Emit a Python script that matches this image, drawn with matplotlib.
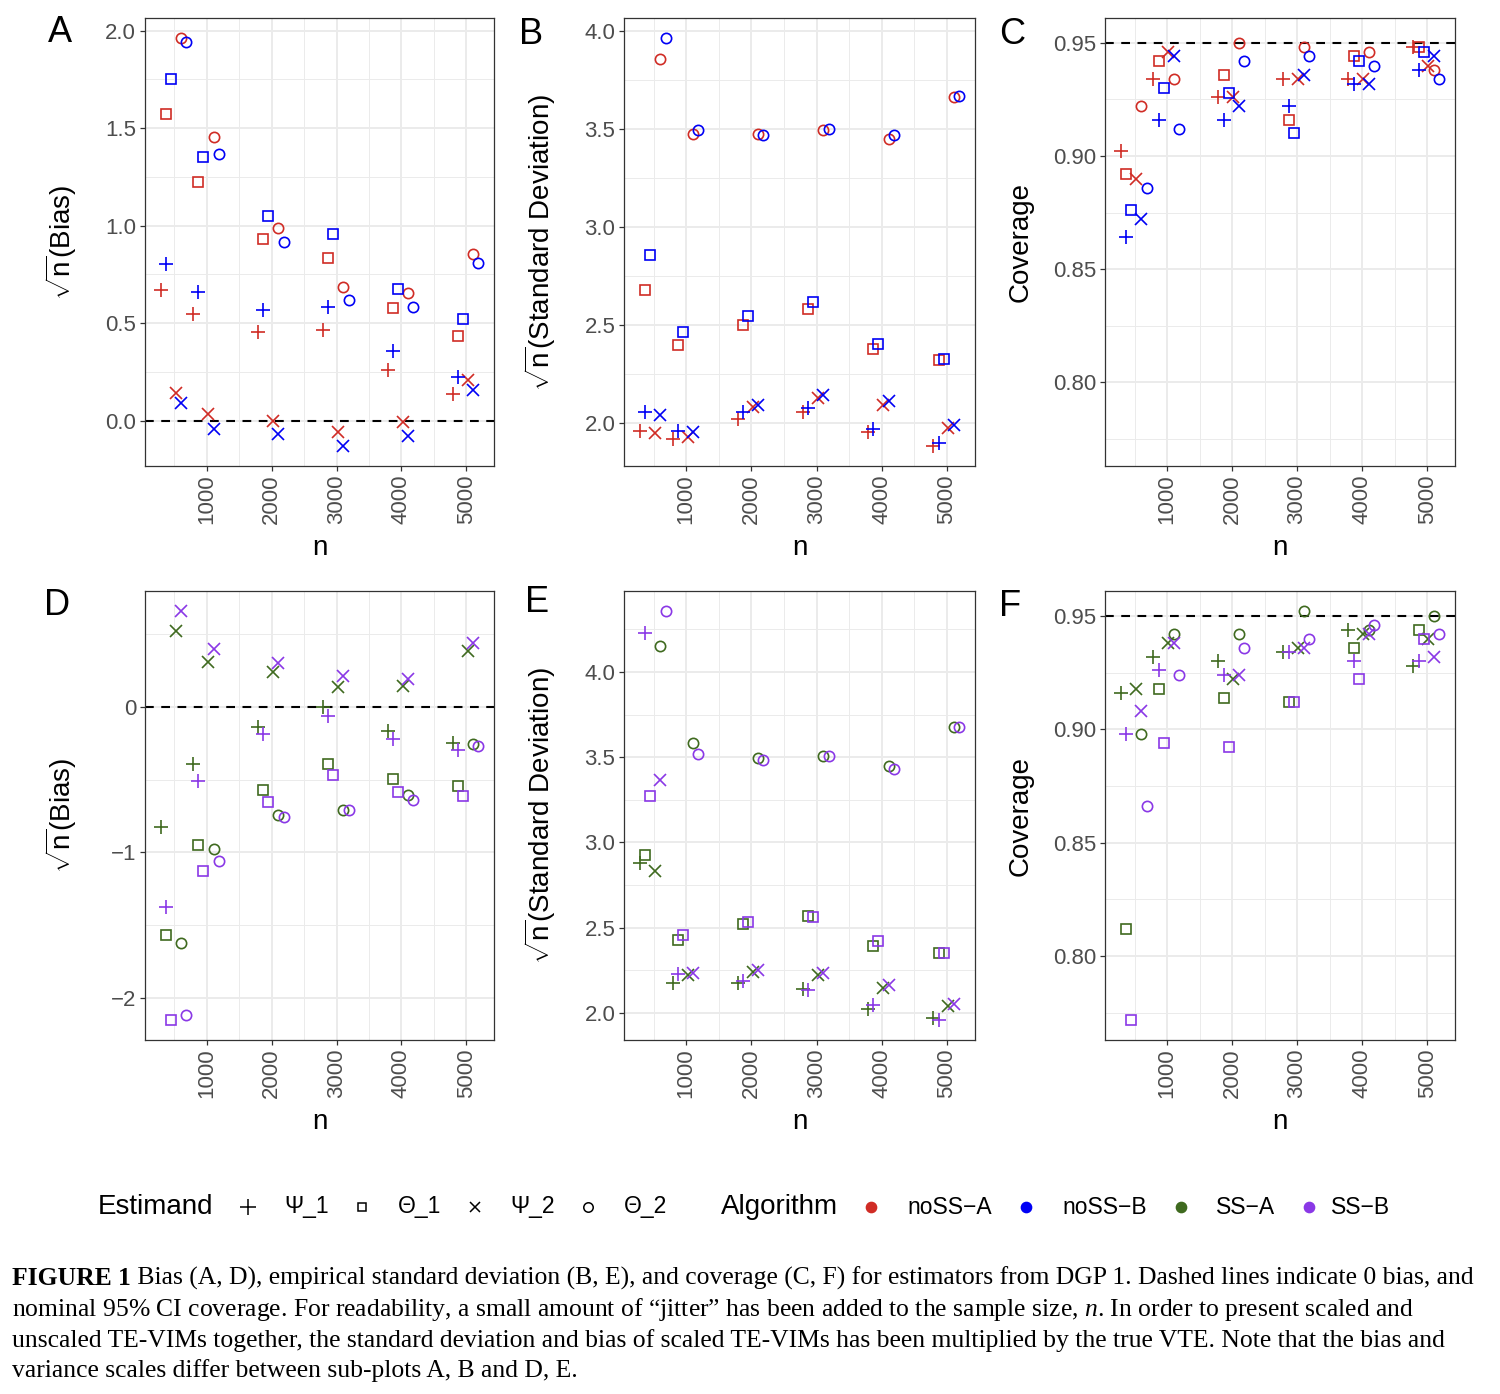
import matplotlib
matplotlib.use("Agg")
import matplotlib.pyplot as plt
import numpy as np

plt.rcParams['font.family'] = ['Liberation Sans', 'DejaVu Sans']
plt.rcParams['mathtext.fontset'] = 'custom'
plt.rcParams['mathtext.rm'] = 'Liberation Sans'
plt.rcParams['mathtext.it'] = 'Liberation Serif:italic'
plt.rcParams['mathtext.bf'] = 'Liberation Sans:bold'

# ---------------- data ----------------
n_values = [500, 1000, 2000, 3000, 4000, 5000]
estimands = ["Ψ_1", "Θ_1", "Ψ_2", "Θ_2"]
algorithms = ["noSS−A", "noSS−B", "SS−A", "SS−B"]
# deterministic jitter added to n (per estimand), for "-A" and "-B" algorithms
jitter_A = [-210, -130, 22, 103]
jitter_B = [-130, -53, 103, 185]

# Panel A: sqrt(n) * bias, noSS algorithms
bias_noSSA_psi1 = [0.670, 0.546, 0.457, 0.466, 0.260, 0.135]
bias_noSSA_theta1 = [1.570, 1.226, 0.931, 0.836, 0.577, 0.432]
bias_noSSA_psi2 = [0.142, 0.033, 0.000, -0.058, -0.009, 0.209]
bias_noSSA_theta2 = [1.960, 1.454, 0.987, 0.683, 0.656, 0.856]
bias_noSSB_psi1 = [0.805, 0.661, 0.568, 0.585, 0.357, 0.224]
bias_noSSB_theta1 = [1.754, 1.352, 1.047, 0.958, 0.676, 0.519]
bias_noSSB_psi2 = [0.093, -0.042, -0.067, -0.128, -0.080, 0.157]
bias_noSSB_theta2 = [1.940, 1.368, 0.916, 0.619, 0.585, 0.807]

# Panel B: sqrt(n) * SD, noSS algorithms
sd_noSSA_psi1 = [1.960, 1.917, 2.018, 2.058, 1.955, 1.884]
sd_noSSA_theta1 = [2.678, 2.400, 2.502, 2.580, 2.377, 2.319]
sd_noSSA_psi2 = [1.949, 1.929, 2.083, 2.129, 2.091, 1.975]
sd_noSSA_theta2 = [3.857, 3.476, 3.473, 3.493, 3.447, 3.663]
sd_noSSB_psi1 = [2.058, 1.957, 2.056, 2.076, 1.967, 1.897]
sd_noSSB_theta1 = [2.855, 2.462, 2.545, 2.618, 2.404, 2.326]
sd_noSSB_psi2 = [2.042, 1.955, 2.091, 2.143, 2.111, 1.987]
sd_noSSB_theta2 = [3.962, 3.495, 3.469, 3.502, 3.467, 3.667]

# Panel C: coverage, noSS algorithms
cov_noSSA_psi1 = [0.902, 0.934, 0.926, 0.934, 0.934, 0.948]
cov_noSSA_theta1 = [0.892, 0.942, 0.936, 0.916, 0.944, 0.948]
cov_noSSA_psi2 = [0.890, 0.946, 0.926, 0.934, 0.934, 0.940]
cov_noSSA_theta2 = [0.922, 0.934, 0.950, 0.948, 0.946, 0.938]
cov_noSSB_psi1 = [0.864, 0.916, 0.916, 0.922, 0.932, 0.938]
cov_noSSB_theta1 = [0.876, 0.930, 0.928, 0.910, 0.942, 0.946]
cov_noSSB_psi2 = [0.872, 0.944, 0.922, 0.936, 0.932, 0.944]
cov_noSSB_theta2 = [0.886, 0.912, 0.942, 0.944, 0.940, 0.934]

# Panel D: sqrt(n) * bias, SS algorithms
bias_SSA_psi1 = [-0.826, -0.390, -0.135, -0.003, -0.164, -0.248]
bias_SSA_theta1 = [-1.569, -0.949, -0.574, -0.392, -0.495, -0.542]
bias_SSA_psi2 = [0.520, 0.309, 0.238, 0.140, 0.145, 0.385]
bias_SSA_theta2 = [-1.620, -0.980, -0.745, -0.711, -0.603, -0.255]
bias_SSB_psi1 = [-1.373, -0.510, -0.189, -0.059, -0.221, -0.299]
bias_SSB_theta1 = [-2.150, -1.127, -0.654, -0.466, -0.588, -0.615]
bias_SSB_psi2 = [0.657, 0.397, 0.304, 0.211, 0.194, 0.439]
bias_SSB_theta2 = [-2.115, -1.061, -0.760, -0.711, -0.640, -0.267]

# Panel E: sqrt(n) * SD, SS algorithms
sd_SSA_psi1 = [2.879, 2.177, 2.177, 2.142, 2.021, 1.969]
sd_SSA_theta1 = [2.923, 2.428, 2.522, 2.568, 2.392, 2.353]
sd_SSA_psi2 = [2.833, 2.219, 2.242, 2.223, 2.144, 2.042]
sd_SSA_theta2 = [4.150, 3.580, 3.497, 3.509, 3.447, 3.674]
sd_SSB_psi1 = [4.228, 2.230, 2.188, 2.136, 2.048, 1.960]
sd_SSB_theta1 = [3.269, 2.459, 2.534, 2.562, 2.422, 2.353]
sd_SSB_psi2 = [3.365, 2.234, 2.251, 2.236, 2.163, 2.052]
sd_SSB_theta2 = [4.355, 3.520, 3.486, 3.505, 3.430, 3.678]

# Panel F: coverage, SS algorithms
cov_SSA_psi1 = [0.916, 0.932, 0.930, 0.934, 0.944, 0.928]
cov_SSA_theta1 = [0.812, 0.918, 0.914, 0.912, 0.936, 0.944]
cov_SSA_psi2 = [0.918, 0.938, 0.922, 0.936, 0.942, 0.940]
cov_SSA_theta2 = [0.898, 0.942, 0.942, 0.952, 0.944, 0.950]
cov_SSB_psi1 = [0.898, 0.926, 0.924, 0.934, 0.930, 0.930]
cov_SSB_theta1 = [0.772, 0.894, 0.892, 0.912, 0.922, 0.940]
cov_SSB_psi2 = [0.908, 0.938, 0.924, 0.936, 0.942, 0.932]
cov_SSB_theta2 = [0.866, 0.924, 0.936, 0.940, 0.946, 0.942]

y_ticks_bias1 = [0.0, 0.5, 1.0, 1.5, 2.0]
y_ticks_sd1 = [2.0, 2.5, 3.0, 3.5, 4.0]
y_ticks_cov = [0.80, 0.85, 0.90, 0.95]
y_ticks_bias2 = [-2, -1, 0]
y_ticks_sd2 = [2.0, 2.5, 3.0, 3.5, 4.0]
x_ticks = [1000, 2000, 3000, 4000, 5000]

caption_bold = "FIGURE 1"
caption_lines = [
    " Bias (A, D), empirical standard deviation (B, E), and coverage (C, F) for estimators from DGP 1. Dashed lines indicate 0 bias, and",
    "nominal 95% CI coverage. For readability, a small amount of \u201cjitter\u201d has been added to the sample size, $n$. In order to present scaled and",
    "unscaled TE-VIMs together, the standard deviation and bias of scaled TE-VIMs has been multiplied by the true VTE. Note that the bias and",
    "variance scales differ between sub-plots A, B and D, E.",
]

# ---------------- styling ----------------
colors = {"noSS−A": "#D02C25", "noSS−B": "#0000F5", "SS−A": "#3F6A1F", "SS−B": "#8A38E6"}
markers = ["+", "s", "x", "o"]
msizes = [10.5, 7.0, 8.0, 7.4]
leg_msizes = [11.0, 6.4, 7.6, 6.8]
MEW = 1.2

W, H = 1500, 1394
fig = plt.figure(figsize=(W / 100, H / 100), dpi=100)
fig.patch.set_facecolor("white")

def px_axes(left, top, right, bottom):
    return fig.add_axes([left / W, 1 - bottom / H, (right - left) / W, (bottom - top) / H])

series = {
    "A": {"noSS−A": [bias_noSSA_psi1, bias_noSSA_theta1, bias_noSSA_psi2, bias_noSSA_theta2],
          "noSS−B": [bias_noSSB_psi1, bias_noSSB_theta1, bias_noSSB_psi2, bias_noSSB_theta2]},
    "B": {"noSS−A": [sd_noSSA_psi1, sd_noSSA_theta1, sd_noSSA_psi2, sd_noSSA_theta2],
          "noSS−B": [sd_noSSB_psi1, sd_noSSB_theta1, sd_noSSB_psi2, sd_noSSB_theta2]},
    "C": {"noSS−A": [cov_noSSA_psi1, cov_noSSA_theta1, cov_noSSA_psi2, cov_noSSA_theta2],
          "noSS−B": [cov_noSSB_psi1, cov_noSSB_theta1, cov_noSSB_psi2, cov_noSSB_theta2]},
    "D": {"SS−A": [bias_SSA_psi1, bias_SSA_theta1, bias_SSA_psi2, bias_SSA_theta2],
          "SS−B": [bias_SSB_psi1, bias_SSB_theta1, bias_SSB_psi2, bias_SSB_theta2]},
    "E": {"SS−A": [sd_SSA_psi1, sd_SSA_theta1, sd_SSA_psi2, sd_SSA_theta2],
          "SS−B": [sd_SSB_psi1, sd_SSB_theta1, sd_SSB_psi2, sd_SSB_theta2]},
    "F": {"SS−A": [cov_SSA_psi1, cov_SSA_theta1, cov_SSA_psi2, cov_SSA_theta2],
          "SS−B": [cov_SSB_psi1, cov_SSB_theta1, cov_SSB_psi2, cov_SSB_theta2]},
}

bias_label = r"$\sqrt{\mathrm{n}}$(Bias)"
sd_label = r"$\sqrt{\mathrm{n}}$(Standard Deviation)"

def fmt(v, d):
    s = f"{v:.{d}f}"
    return s.replace("-", "\u2212")

panel_specs = {
    "A": dict(box=(145, 18, 494, 466), ylabel=bias_label, yt=y_ticks_bias1, dec=1, hline=0.0, letter=(60, 33)),
    "B": dict(box=(624, 18, 975, 466), ylabel=sd_label, yt=y_ticks_sd1, dec=1, hline=None, letter=(531, 35)),
    "C": dict(box=(1105, 18, 1455, 466), ylabel="Coverage", yt=y_ticks_cov, dec=2, hline=0.95, letter=(1012, 35)),
    "D": dict(box=(145, 591, 494, 1040), ylabel=bias_label, yt=y_ticks_bias2, dec=0, hline=0.0, letter=(57, 605)),
    "E": dict(box=(624, 591, 975, 1040), ylabel=sd_label, yt=y_ticks_sd2, dec=1, hline=None, letter=(537, 602)),
    "F": dict(box=(1105, 591, 1455, 1040), ylabel="Coverage", yt=y_ticks_cov, dec=2, hline=0.95, letter=(1010, 607)),
}

def expand(vals):
    lo, hi = min(vals), max(vals)
    r = hi - lo
    return lo - 0.05 * r, hi + 0.05 * r

all_x = [n + j for n in n_values for j in jitter_A + jitter_B]
xlim = expand(all_x)

def panel_vals(key):
    return [v for alg in series[key].values() for lst in alg for v in lst]

ylims = {k: expand(panel_vals(k)) for k in "ABDE"}
ylims["C"] = ylims["F"] = expand(panel_vals("C") + panel_vals("F"))

TICK_C = "#4D4D4D"
for key, spec in panel_specs.items():
    l, t, r, b = spec["box"]
    ax = px_axes(l, t, r, b)
    ax.set_facecolor("white")
    for alg, est_lists in series[key].items():
        jit = jitter_A if alg.endswith("A") else jitter_B
        for ei, vals in enumerate(est_lists):
            xs = [n + jit[ei] for n in n_values]
            ax.plot(xs, vals, linestyle="none", marker=markers[ei], ms=msizes[ei],
                    mfc="none", mec=colors[alg], mew=MEW, zorder=3)
    if spec["hline"] is not None:
        ax.axhline(spec["hline"], color="black", lw=1.5, dashes=(4.2, 3.6), zorder=2)
    ax.set_xlim(*xlim)
    ax.set_ylim(*ylims[key])
    # ticks & grid
    ax.set_xticks(x_ticks)
    ax.set_xticklabels([str(v) for v in x_ticks], rotation=90, fontsize=16, color=TICK_C)
    xt_minor = [v + 500 for v in [0] + x_ticks[:-1]] + [500]
    ax.set_xticks(sorted(set(xt_minor)), minor=True)
    yt = spec["yt"]
    ax.set_yticks(yt)
    ax.set_yticklabels([fmt(v, spec["dec"]) for v in yt], fontsize=16, color=TICK_C)
    step = yt[1] - yt[0]
    ymin_l = [yt[0] - step / 2] + [v + step / 2 for v in yt]
    ax.set_yticks([v for v in ymin_l if ylims[key][0] <= v <= ylims[key][1]], minor=True)
    ax.grid(True, which="major", color="#EBEBEB", lw=1.4, zorder=0)
    ax.grid(True, which="minor", color="#EBEBEB", lw=0.7, zorder=0)
    ax.set_axisbelow(True)
    ax.tick_params(which="major", length=3.8, width=0.9, color="#333333", pad=2.5)
    ax.tick_params(which="minor", length=0)
    for sp in ax.spines.values():
        sp.set_color("#333333")
        sp.set_linewidth(0.9)
    ax.set_xlabel("n", fontsize=20, va="center")
    ax.xaxis.set_label_coords(0.5, -82 / (b - t))
    ax.set_ylabel(spec["ylabel"], fontsize=20, va="center")
    ax.yaxis.set_label_coords(-84 / (r - l), 0.5)
    lx, ly = spec["letter"]
    fig.text(lx / W, 1 - ly / H, key, fontsize=26, ha="center", va="center")

# ---------------- legend & caption (pixel overlay) ----------------
ov = fig.add_axes([0, 0, 1, 1], zorder=-1)
ov.set_xlim(0, W)
ov.set_ylim(H, 0)
ov.axis("off")

LY = 1207
ov.text(98, LY, "Estimand", fontsize=20, ha="left", va="center")
est_key_x = [248, 362, 475, 588]
est_lab_x = [284, 398, 510, 624]
for i in range(4):
    ov.plot([est_key_x[i]], [LY], linestyle="none", marker=markers[i], ms=leg_msizes[i],
            mfc="none", mec="black", mew=1.1)
    ov.text(est_lab_x[i], LY, estimands[i], fontsize=16.5, ha="left", va="center")
ov.text(721, LY, "Algorithm", fontsize=20, ha="left", va="center")
alg_key_x = [871, 1026, 1181, 1309]
alg_lab_x = [907, 1062, 1216, 1331]
for i, alg in enumerate(algorithms):
    ov.plot([alg_key_x[i]], [LY], linestyle="none", marker="o", ms=7.4,
            mfc=colors[alg], mec=colors[alg])
    ov.text(alg_lab_x[i], LY, alg, fontsize=16.5, ha="left", va="center")

# caption
cap_x0 = 12
baselines = [1285, 1316, 1347, 1377]
serif = ["Liberation Serif", "DejaVu Serif"]
fs0 = 17.0
tb = ov.text(cap_x0, baselines[0], caption_bold, fontsize=fs0, fontweight="bold",
             family=serif, ha="left", va="baseline")
texts = [ov.text(cap_x0, baselines[i], caption_lines[i], fontsize=fs0, family=serif,
                 ha="left", va="baseline") for i in range(4)]
fig.canvas.draw()
rend = fig.canvas.get_renderer()
wb = tb.get_window_extent(rend).width
w1 = texts[0].get_window_extent(rend).width
scale = (1475 - cap_x0) / (wb + w1)
fs = fs0 * scale
tb.set_fontsize(fs)
for t_ in texts:
    t_.set_fontsize(fs)
fig.canvas.draw()
wb = tb.get_window_extent(rend).width
texts[0].set_x(cap_x0 + wb)

fig.savefig("out.png", dpi=100, facecolor="white")
